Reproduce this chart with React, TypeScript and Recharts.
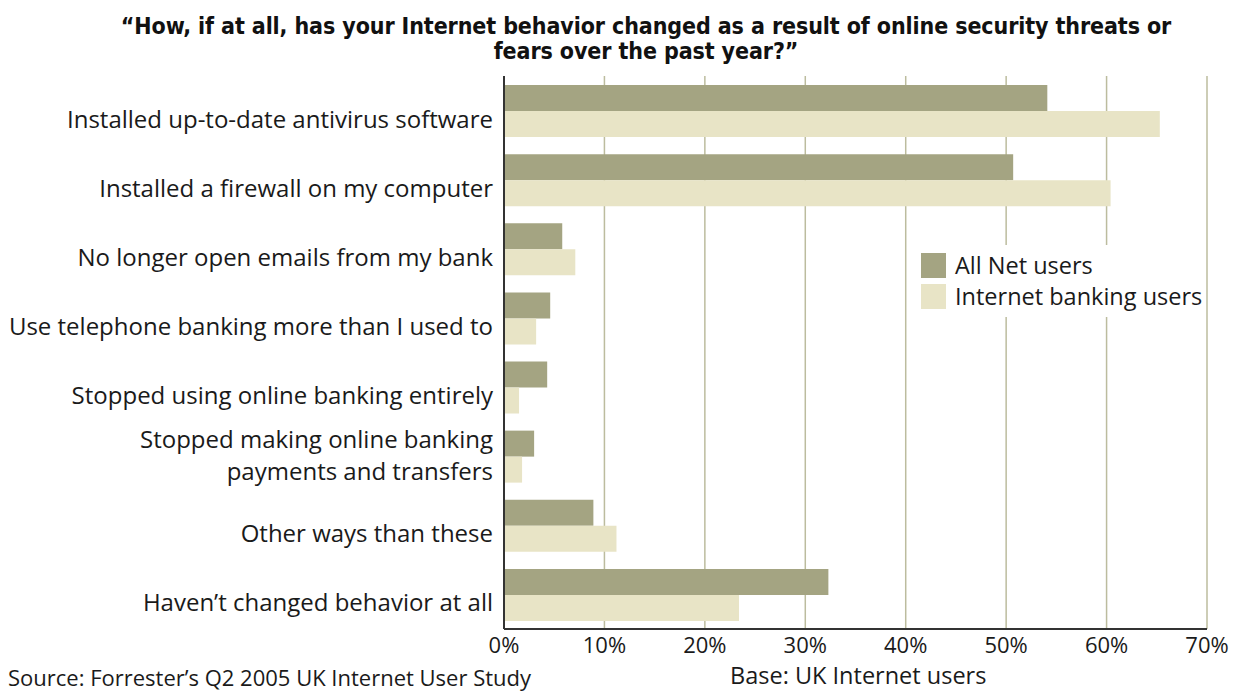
import React from 'react';
import { BarChart, Bar, XAxis, YAxis, CartesianGrid } from 'recharts';

const categories = [
  'Installed up-to-date antivirus software',
  'Installed a firewall on my computer',
  'No longer open emails from my bank',
  'Use telephone banking more than I used to',
  'Stopped using online banking entirely',
  'Stopped making online banking\npayments and transfers',
  'Other ways than these',
  'Haven\u2019t changed behavior at all',
];
const allNetUsers = [54.1, 50.7, 5.8, 4.6, 4.3, 3.0, 8.9, 32.3];
const internetBankingUsers = [65.3, 60.4, 7.1, 3.2, 1.5, 1.8, 11.2, 23.4];
const xTicks = [0, 10, 20, 30, 40, 50, 60, 70];
const seriesNames = ['All Net users', 'Internet banking users'];

const COLOR_ALL = '#a4a482';
const COLOR_BANK = '#e8e4c6';
const FONT = "'Open Sans', Lato, sans-serif";

const data = categories.map((c, i) => ({
  category: c,
  allNet: allNetUsers[i],
  banking: internetBankingUsers[i],
}));

const CategoryTick = (props: any) => {
  const { x, y, payload } = props;
  const lines = String(payload.value).split('\n');
  if (lines.length === 1) {
    return (
      <text x={x} y={y + 17} textAnchor="end" fontSize={24} fontFamily={FONT} fill="#1a1a1a">
        {lines[0]}
      </text>
    );
  }
  return (
    <text x={x} textAnchor="end" fontSize={24} fontFamily={FONT} fill="#1a1a1a">
      {lines.map((l, i) => (
        <tspan key={i} x={x} y={y - 8 + i * 32}>
          {l}
        </tspan>
      ))}
    </text>
  );
};

export default function App() {
  return (
    <div style={{ position: 'absolute', left: 0, top: 0, width: 1236, height: 691, overflow: 'hidden', background: '#fff' }}>
      <div
        style={{
          position: 'absolute',
          left: 0,
          top: 14,
          width: 1292,
          textAlign: 'center',
          fontFamily: "'DejaVu Sans Condensed', 'DejaVu Sans', sans-serif",
          fontWeight: 'bold',
          fontSize: 23,
          lineHeight: '25px',
          letterSpacing: -0.1,
          color: '#111',
        }}
      >
        {'\u201cHow, if at all, has your Internet behavior changed as a result of online security threats or'}
        <br />
        {'fears over the past year?\u201d'}
      </div>
      <BarChart
        width={1236}
        height={691}
        data={data}
        layout="vertical"
        margin={{ top: 76, right: 29, left: 0, bottom: 32 }}
        barGap={0}
        barSize={26}
      >
        <CartesianGrid horizontal={false} vertical={true} stroke="#bcbc9e" strokeWidth={1.5} />
        <XAxis
          type="number"
          domain={[0, 70]}
          ticks={xTicks}
          tickFormatter={(v: number) => `${v}%`}
          tickLine={false}
          tickSize={0}
          tickMargin={8}
          height={30}
          axisLine={{ stroke: '#333', strokeWidth: 2 }}
          tick={{ fontSize: 22, fontFamily: FONT, fill: '#1a1a1a' }}
          interval={0}
        />
        <YAxis
          type="category"
          dataKey="category"
          width={504}
          tickLine={false}
          tickSize={0}
          tickMargin={11}
          axisLine={{ stroke: '#333', strokeWidth: 2 }}
          tick={<CategoryTick />}
          interval={0}
        />
        <Bar dataKey="allNet" name={seriesNames[0]} fill={COLOR_ALL} isAnimationActive={false} />
        <Bar dataKey="banking" name={seriesNames[1]} fill={COLOR_BANK} isAnimationActive={false} />
      </BarChart>
      <div
        style={{
          position: 'absolute',
          left: 912,
          top: 245,
          background: '#fff',
          padding: '5px 4px 5px 9px',
          fontFamily: FONT,
          fontSize: 23.5,
          color: '#1a1a1a',
        }}
      >
        {seriesNames.map((n, i) => (
          <div key={n} style={{ display: 'flex', alignItems: 'center', height: 31 }}>
            <div style={{ width: 25, height: 25, background: i === 0 ? COLOR_ALL : COLOR_BANK, marginRight: 9 }} />
            <span style={{ lineHeight: '31px' }}>{n}</span>
          </div>
        ))}
      </div>
      <div style={{ position: 'absolute', left: 730, top: 662, fontFamily: FONT, fontSize: 23.5, lineHeight: '26px', color: '#1a1a1a' }}>
        Base: UK Internet users
      </div>
      <div style={{ position: 'absolute', left: 8, top: 665, fontFamily: FONT, fontSize: 22, lineHeight: '25px', color: '#1a1a1a' }}>
        Source: Forrester’s Q2 2005 UK Internet User Study
      </div>
    </div>
  );
}
